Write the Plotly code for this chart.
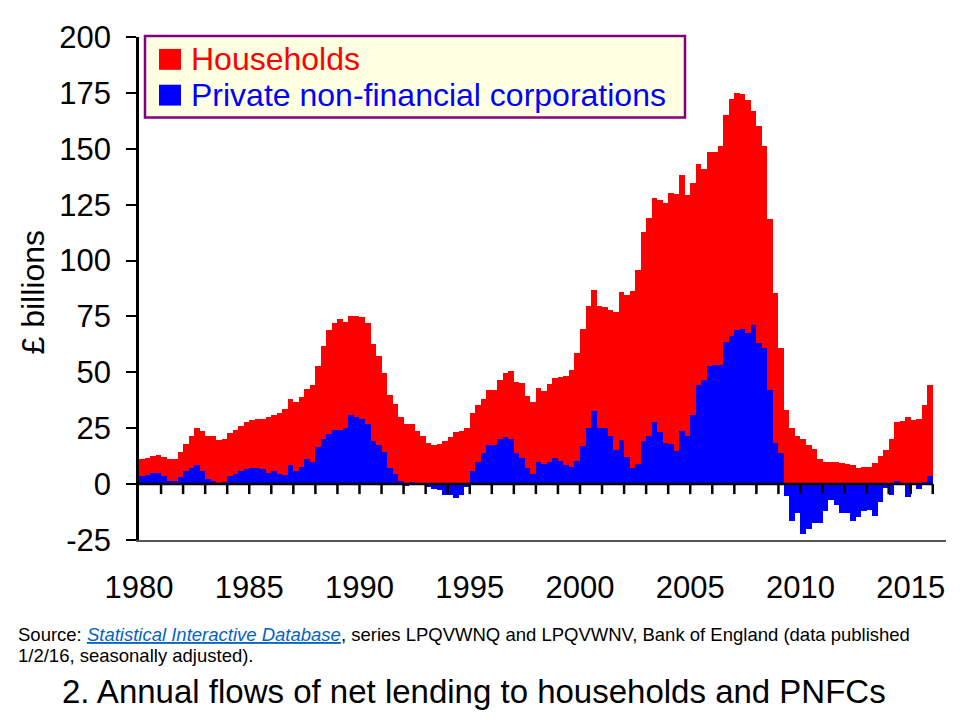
import plotly.graph_objects as go

# Annual flows of net lending, £ billions, quarterly from 1980 Q1 to 2015 Q4
start_year = 1980
households = [
    11.1, 11.7, 12.4, 12.9, 12.0, 11.1, 11.1, 14.2, 17.8, 21.3, 24.9, 23.6,
    21.3, 21.3, 19.8, 20.4, 22.7, 24.0, 25.8, 27.6, 28.9, 29.3, 29.3, 30.2,
    31.1, 32.0, 33.8, 38.2, 36.9, 39.1, 42.7, 44.4, 52.9, 61.8, 68.9, 72.0,
    73.8, 72.4, 75.1, 75.1, 74.7, 72.0, 62.7, 57.3, 49.8, 40.0, 36.0, 30.2,
    26.7, 26.7, 23.6, 21.3, 18.2, 17.3, 17.8, 19.1, 20.9, 23.1, 23.6, 24.9,
    31.6, 35.6, 38.2, 42.2, 42.2, 46.7, 49.8, 50.7, 45.8, 45.3, 39.6, 36.9,
    43.1, 41.8, 44.9, 47.6, 48.0, 48.4, 51.1, 58.7, 69.3, 79.6, 86.7, 79.6,
    79.1, 78.1, 77.0, 85.8, 84.6, 86.2, 95.6, 112.9, 119.1, 128.0, 127.3, 125.9,
    130.2, 129.8, 138.2, 129.3, 134.7, 143.1, 140.9, 148.4, 148.4, 151.1, 164.9, 172.4,
    175.0, 174.5, 172.0, 167.1, 160.0, 151.1, 118.7, 85.3, 60.9, 33.3, 25.3, 21.3,
    20.0, 17.3, 15.6, 11.1, 9.8, 9.8, 9.8, 9.3, 8.9, 8.4, 7.1, 7.6,
    7.6, 9.3, 12.4, 15.1, 20.4, 27.6, 28.4, 30.2, 28.9, 29.3, 35.6, 44.4,
]
pnfcs = [
    3.7, 4.1, 5.0, 5.0, 3.7, 1.5, 1.5, 3.3, 5.9, 7.3, 8.6, 5.9,
    2.4, 1.5, 0.3, 1.0, 3.7, 4.6, 5.9, 6.8, 7.3, 7.3, 6.8, 5.0,
    5.9, 4.6, 4.1, 8.6, 5.9, 7.7, 11.3, 9.9, 16.4, 20.0, 22.2, 24.0,
    24.0, 25.3, 30.7, 29.8, 29.3, 26.7, 19.1, 17.3, 14.2, 7.1, 4.6, 1.5,
    -1.0, 0.9, 0.3, 0.3, -1.2, -2.1, -2.5, -4.7, -4.7, -6.1, -4.7, -1.2,
    5.8, 9.8, 13.8, 17.3, 17.3, 20.4, 20.9, 20.4, 13.8, 11.6, 7.1, 4.4,
    9.8, 8.9, 9.8, 11.6, 10.2, 8.4, 7.6, 10.2, 16.9, 24.9, 32.9, 25.3,
    24.9, 21.3, 15.1, 19.6, 12.0, 7.1, 8.9, 19.1, 21.3, 27.6, 23.1, 18.2,
    17.8, 14.7, 23.6, 21.3, 31.1, 44.4, 46.7, 52.9, 53.3, 53.3, 63.6, 66.2,
    68.9, 69.3, 67.6, 71.1, 63.1, 60.9, 42.2, 18.2, 13.8, -5.3, -16.7, -12.7,
    -22.1, -20.3, -17.2, -17.2, -11.9, -7.1, -9.2, -12.7, -12.7, -16.7, -14.5, -11.9,
    -11.4, -14.1, -7.9, -1.6, -4.7, 1.3, 0.0, -5.8, 0.0, -2.1, 0.9, 3.6,
]
year_labels = [1980, 1985, 1990, 1995, 2000, 2005, 2010, 2015]
y_ticks = [-25, 0, 25, 50, 75, 100, 125, 150, 175, 200]

# quarter midpoints as decimal years
x = [start_year + (i + 0.5) / 4 for i in range(len(households))]
x_end = start_year + len(households) / 4

# page body adds an 8px offset, so the figure is drawn 8px smaller
OFF = 8
W, H = 960 - OFF, 720 - OFF
L, R, T, B = 139 - OFF, 14, 34 - OFF, 180


def px(p):
    return (p - OFF - L) / (W - L - R)


def py(p):
    return (H - B - (p - OFF)) / (H - T - B)


fig = go.Figure()
fig.add_trace(go.Bar(x=x, y=households, width=0.25, marker=dict(color="#FF0000", line_width=0),
                     name="Households", showlegend=False))
fig.add_trace(go.Bar(x=x, y=pnfcs, width=0.25, marker=dict(color="#0000FF", line_width=0),
                     name="Private non-financial corporations", showlegend=False))

shapes = []
# zero line with year ticks hanging below it
shapes.append(dict(type="line", xref="x", yref="y", x0=start_year, x1=x_end, y0=0, y1=0,
                   line=dict(color="black", width=2.5), layer="above"))
for yr in range(start_year + 1, int(x_end) + 1):
    shapes.append(dict(type="line", xref="x", yref="y", ysizemode="pixel", yanchor=0,
                       x0=yr, x1=yr, y0=0, y1=-10,
                       line=dict(color="black", width=2.5), layer="above"))

# legend box
shapes.append(dict(type="rect", xref="paper", yref="paper", x0=px(145), x1=px(685),
                   y0=py(115), y1=py(33), fillcolor="#FFFFE1",
                   line=dict(color="#800080", width=2.5), layer="above"))
shapes.append(dict(type="rect", xref="paper", yref="paper", x0=px(159), x1=px(181),
                   y0=py(67), y1=py(46), fillcolor="#FF0000", line_width=0, layer="above"))
shapes.append(dict(type="rect", xref="paper", yref="paper", x0=px(159), x1=px(181),
                   y0=py(103), y1=py(82), fillcolor="#0000FF", line_width=0, layer="above"))

font = "Arial, 'Liberation Sans', sans-serif"
src_font = dict(family=font, size=18.5, color="black")
annotations = [
    dict(text="Households", x=px(189), y=py(56), xref="paper", yref="paper",
         xanchor="left", yanchor="middle", showarrow=False,
         font=dict(family=font, size=32, color="#FF0000")),
    dict(text="Private non-financial corporations", x=px(189), y=py(92), xref="paper", yref="paper",
         xanchor="left", yanchor="middle", showarrow=False,
         font=dict(family=font, size=32, color="#0000FF")),
    dict(text="£ billions", textangle=-90, x=px(33), y=py(291), xref="paper", yref="paper",
         xanchor="center", yanchor="middle", showarrow=False,
         font=dict(family=font, size=32, color="black")),
    dict(text="Source: <span style='color:#0563C1;text-decoration:underline'><i>Statistical Interactive Database</i></span>"
              ", series LPQVWNQ and LPQVWNV, Bank of England (data published",
         x=px(16), y=py(635), xref="paper", yref="paper", xanchor="left", yanchor="middle",
         showarrow=False, font=src_font),
    dict(text="1/2/16, seasonally adjusted).",
         x=px(16), y=py(656), xref="paper", yref="paper", xanchor="left", yanchor="middle",
         showarrow=False, font=src_font),
    dict(text="2. Annual flows of net lending to households and PNFCs",
         x=px(474), y=py(692), xref="paper", yref="paper", xanchor="center", yanchor="middle",
         showarrow=False, font=dict(family=font, size=33, color="black")),
]

fig.update_layout(
    width=W, height=H,
    margin=dict(l=L, r=R, t=T, b=B),
    paper_bgcolor="white", plot_bgcolor="white",
    barmode="overlay", bargap=0,
    showlegend=False,
    font=dict(family=font, color="black"),
    xaxis=dict(range=[start_year, 2016.6], tickvals=year_labels, ticks="",
               showgrid=False, zeroline=False, showline=True, linecolor="#555555", linewidth=1.5,
               tickfont=dict(size=31), ticklabelstandoff=19),
    yaxis=dict(range=[-25, 200], tickvals=y_ticks, ticktext=[str(v) for v in y_ticks],
               ticks="outside", ticklen=10, tickwidth=2,
               tickcolor="black", showgrid=False, zeroline=False, showline=True,
               linecolor="black", linewidth=2.5, tickfont=dict(size=31), ticklabelstandoff=9),
    shapes=shapes,
    annotations=annotations,
)

fig.write_html("out.html")
